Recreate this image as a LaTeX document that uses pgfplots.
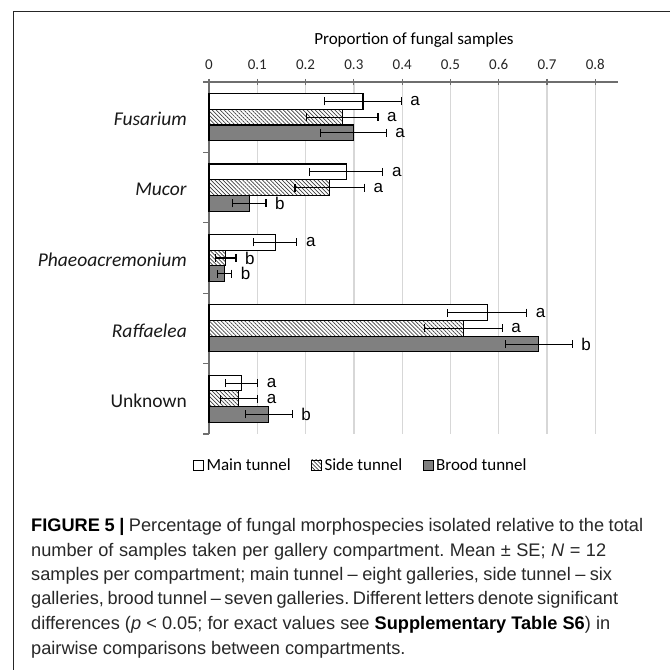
\documentclass[border=0pt]{standalone}
\usepackage{pgfplots}
\pgfplotsset{compat=1.18}
\usepackage{pgfplotstable}
\usetikzlibrary{patterns.meta}
\usepackage{fontspec}
\setmainfont{Carlito}
\newfontfamily\lsans{Liberation Sans}
\definecolor{brood}{RGB}{128,128,128}
\definecolor{gridc}{RGB}{215,215,215}
\definecolor{captxt}{RGB}{40,40,40}
\definecolor{axc}{RGB}{110,110,110}
\frenchspacing

% y: 4=Fusarium, 3=Mucor, 2=Phaeoacremonium, 1=Raffaelea, 0=Unknown
\pgfplotstableread{
y x e lab
4 0.319 0.079 a
3 0.284 0.076 a
2 0.137 0.045 a
1 0.576 0.082 a
0 0.068 0.033 a
}\maintab
\pgfplotstableread{
y x e lab
4 0.276 0.074 a
3 0.250 0.072 a
2 0.035 0.021 b
1 0.527 0.080 a
0 0.062 0.039 a
}\sidetab
\pgfplotstableread{
y x e lab
4 0.299 0.068 a
3 0.083 0.035 b
2 0.032 0.015 b
1 0.683 0.069 b
0 0.124 0.048 b
}\broodtab

\begin{document}
\begin{tikzpicture}
\path[use as bounding box, fill=white] (0,0) rectangle (670bp,670bp);
\draw[line width=1bp, black!85] (13bp,0) -- (13bp,658bp) -- (670bp,658bp);
\node[font=\fontsize{17bp}{20bp}\selectfont] at (414bp,630bp) {Proportion of fungal samples};
\begin{axis}[
  at={(209bp,236bp)}, anchor=south west,
  scale only axis, width=409bp, height=352bp,
  xmin=0, xmax=0.847, ymin=-0.5, ymax=4.5,
  clip=false,
  axis x line=top, axis y line=left,
  axis line style={-, line width=1.1bp, axc},
  x axis line style={shorten <=-5bp},
  xtick={0,0.1,0.2,0.3,0.4,0.5,0.6,0.7,0.8},
  /pgf/number format/assume math mode=true,
  /pgf/number format/fixed,
  xticklabel style={font=\fontsize{15bp}{18bp}\selectfont, text=black!85, yshift=6bp},
  xmajorgrids, grid style={gridc, line width=1.3bp},
  ytick={0,1,2,3,4},
  yticklabels={Unknown,\textit{Raffaelea},\textit{Phaeoacremonium},\textit{Mucor},\textit{Fusarium}},
  yticklabel style={font=\fontsize{19.5bp}{22bp}\selectfont, text=black!90, anchor=east, inner sep=0pt, xshift=-19bp, yshift=-2bp},
  minor ytick={-0.5,0.5,1.5,2.5,3.5,4.5},
  tick align=center,
  major tick length=6bp, minor tick length=6bp,
  every major x tick/.append style={line width=1.1bp, axc},
  every major y tick/.append style={draw=none},
  every minor y tick/.append style={line width=1.1bp, axc, xshift=-3bp},
  legend style={at={(0.372,-0.088)}, anchor=center, draw=none, fill=none,
    legend columns=3, font=\fontsize{17bp}{20bp}\selectfont,
    /tikz/every even column/.append style={column sep=18bp},
    nodes={inner sep=2.5bp}},
  legend image code/.code={\draw[#1, line width=0.8bp] (0bp,-5bp) rectangle (10bp,5bp);},
  errplot/.style={draw=none, mark=none, forget plot,
    error bars/.cd, x dir=both, x explicit,
    error bar style={draw=black, line width=1.1bp},
    error mark options={draw=black, line width=1.1bp, mark size=4bp, rotate=90}},
  letters/.style={draw=none, mark=none, forget plot, nodes near coords, point meta=explicit symbolic,
    nodes near coords style={anchor=west, font=\lsans\fontsize{17bp}{20bp}\selectfont, inner sep=0pt, xshift=9bp}},
]
\addplot[xbar, bar width=0.223, bar shift=0.223, fill=white, draw=black, line width=1.1bp]
  table[x=x, y=y] {\maintab};
\addlegendentry{Main tunnel}
\addplot[xbar, bar width=0.223, bar shift=0, fill=white, draw=black, line width=1.1bp,
  postaction={pattern={Lines[angle=-45,distance=2.8bp,line width=0.7bp]}, pattern color=black!75}]
  table[x=x, y=y] {\sidetab};
\addlegendentry{Side tunnel}
\addplot[xbar, bar width=0.223, bar shift=-0.223, fill=brood, draw=black, line width=1.1bp]
  table[x=x, y=y] {\broodtab};
\addlegendentry{Brood tunnel}
% error bars
\addplot[errplot] table[x=x, y expr=\thisrow{y}+0.223, x error=e] {\maintab};
\addplot[errplot] table[x=x, y expr=\thisrow{y}, x error=e] {\sidetab};
\addplot[errplot] table[x=x, y expr=\thisrow{y}-0.223, x error=e] {\broodtab};
% significance letters
\addplot[letters] table[x expr=\thisrow{x}+\thisrow{e}, y expr=\thisrow{y}+0.223, meta=lab] {\maintab};
\addplot[letters] table[x expr=\thisrow{x}+\thisrow{e}, y expr=\thisrow{y}, meta=lab] {\sidetab};
\addplot[letters] table[x expr=\thisrow{x}+\thisrow{e}, y expr=\thisrow{y}-0.223, meta=lab] {\broodtab};
\end{axis}
\begin{scope}[every node/.style={anchor=base west, inner sep=0pt, font=\lsans\fontsize{18.2bp}{22bp}\selectfont, text=captxt}]
\node at (31bp,138bp) {\makebox[612bp][s]{\textbf{\color{black}FIGURE 5 |} Percentage of fungal morphospecies isolated relative to the total}};
\node at (31bp,113.5bp) {\makebox[575bp][s]{number of samples taken per gallery compartment. Mean ± SE; \textit{N} = 12}};
\node at (31bp,89bp) {\makebox[581bp][s]{samples per compartment; main tunnel – eight galleries, side tunnel – six}};
\node at (31bp,65bp) {\makebox[587bp][s]{galleries, brood tunnel – seven galleries. Different letters denote significant}};
\node at (31bp,40.5bp) {\makebox[579bp][s]{differences (\textit{p} < 0.05; for exact values see \textbf{\color{black}Supplementary Table S6}) in}};
\node at (31bp,16bp) {pairwise comparisons between compartments.};
\end{scope}
\end{tikzpicture}
\end{document}
